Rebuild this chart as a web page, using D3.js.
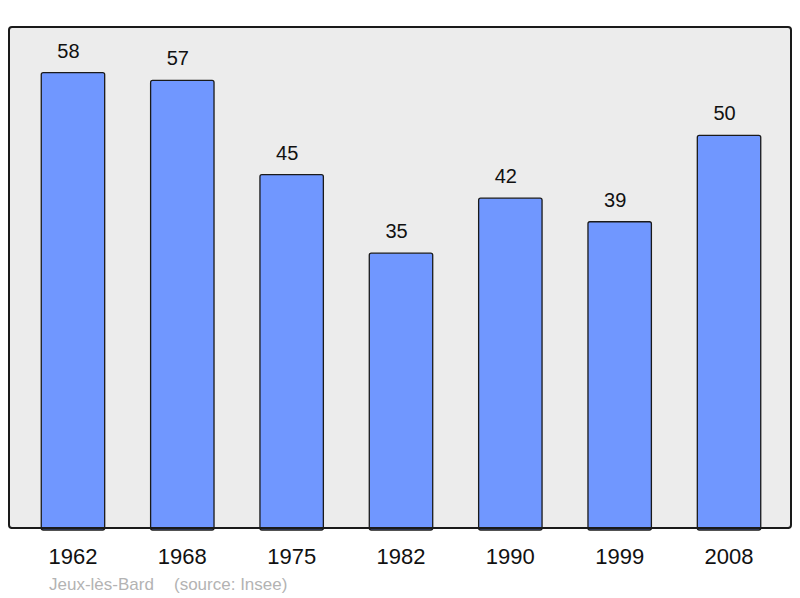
<!DOCTYPE html>
<html>
<head>
<meta charset="utf-8">
<script src="https://cdn.jsdelivr.net/npm/d3@7"></script>
<style>
  body { margin: 0; background: #fff; }
  svg text { font-family: "Liberation Sans", Arial, sans-serif; }
</style>
</head>
<body>
<div id="graph"></div>
<script>
// population per census year
const years = ["1962", "1968", "1975", "1982", "1990", "1999", "2008"];
const population = [58, 57, 45, 35, 42, 39, 50];
const commune = "Jeux-lès-Bard";
const source = "(source: Insee)";

const width = 800;
const height = 598;
const panel = { left: 9, top: 27, right: 791, bottom: 528 };

const svg = d3.select("#graph").append("svg")
    .attr("width", width)
    .attr("height", height);

// grey plot area
svg.append("rect")
    .attr("x", panel.left)
    .attr("y", panel.top)
    .attr("width", panel.right - panel.left)
    .attr("height", panel.bottom - panel.top)
    .attr("rx", 3)
    .attr("fill", "#ececec")
    .attr("stroke", "#1a1a1a")
    .attr("stroke-width", 2);

const xScale = d3.scaleBand()
    .domain(years)
    .range([18.3, 783.7])
    .paddingInner(0.42)
    .paddingOuter(0.21);

const yScale = d3.scaleLinear()
    .domain([0, d3.max(population) * 1.1])
    .range([panel.bottom, panel.top]);

const data = years.map((y, i) => ({ year: y, value: population[i] }));

svg.selectAll(".bar")
    .data(data)
    .enter().append("rect")
    .attr("class", "bar")
    .attr("x", d => xScale(d.year))
    .attr("y", d => yScale(d.value))
    .attr("width", xScale.bandwidth())
    .attr("height", d => panel.bottom - yScale(d.value) + 2)
    .attr("rx", 2)
    .attr("fill", "#7097ff")
    .attr("stroke", "#1a1a1a")
    .attr("stroke-width", 1.3);

// redraw the panel bottom line over the bars
svg.append("line")
    .attr("x1", panel.left + 2)
    .attr("x2", panel.right - 2)
    .attr("y1", panel.bottom)
    .attr("y2", panel.bottom)
    .attr("stroke", "#1a1a1a")
    .attr("stroke-width", 2);

// value labels sit a little left of the bar centre
svg.selectAll(".val")
    .data(data)
    .enter().append("text")
    .attr("class", "val")
    .attr("x", d => xScale(d.year) + xScale.bandwidth() / 2 - 4.5)
    .attr("y", d => yScale(d.value) - 15)
    .attr("text-anchor", "middle")
    .attr("font-size", "20px")
    .attr("fill", "#111")
    .text(d => d.value);

// year axis, no line or ticks
const xAxis = svg.append("g")
    .attr("transform", `translate(0, ${panel.bottom})`)
    .call(d3.axisBottom(xScale).tickSize(0).tickPadding(0));
xAxis.select(".domain").remove();
xAxis.selectAll("text")
    .attr("y", 36)
    .attr("dy", null)
    .attr("font-size", "22px")
    .attr("font-family", "Liberation Sans, Arial, sans-serif")
    .attr("fill", "#111");

svg.append("text")
    .attr("x", 49)
    .attr("y", 590)
    .attr("font-size", "17px")
    .attr("fill", "#b3b3b3")
    .text(commune);

svg.append("text")
    .attr("x", 174)
    .attr("y", 590)
    .attr("font-size", "17px")
    .attr("fill", "#b3b3b3")
    .text(source);
</script>
</body>
</html>
